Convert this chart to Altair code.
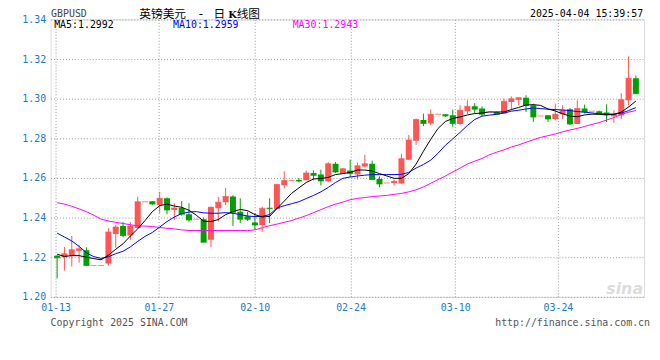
import altair as alt
import pandas as pd

# ---- data (candle index 0..79) ----
opens = [1.2207, 1.2200, 1.2208, 1.2233, 1.2235, 1.2158, 1.2158, 1.2168, 1.2317, 1.2357,
         1.2310, 1.2347, 1.2480, 1.2483, 1.2463, 1.2497, 1.2438, 1.2448, 1.2417, 1.2392,
         1.2392, 1.2288, 1.2447, 1.2477, 1.2507, 1.2430, 1.2407, 1.2375, 1.2363, 1.2450,
         1.2443, 1.2563, 1.2587, 1.2590, 1.2588, 1.2625, 1.2617, 1.2583, 1.2672, 1.2622,
         1.2638, 1.2617, 1.2658, 1.2672, 1.2595, 1.2575, 1.2575, 1.2572, 1.2692, 1.2788,
         1.2892, 1.2875, 1.2922, 1.2922, 1.2917, 1.2872, 1.2937, 1.2962, 1.2950, 1.2933,
         1.2933, 1.2925, 1.2983, 1.2995, 1.3005, 1.2967, 1.2913, 1.2917, 1.2897, 1.2922,
         1.2947, 1.2872, 1.2950, 1.2937, 1.2937, 1.2930, 1.2912, 1.2917, 1.2992, 1.3103]
highs = [1.2210, 1.2252, 1.2307, 1.2260, 1.2250, 1.2158, 1.2158, 1.2347, 1.2363, 1.2377,
         1.2377, 1.2505, 1.2480, 1.2483, 1.2530, 1.2502, 1.2472, 1.2483, 1.2472, 1.2392,
         1.2400, 1.2455, 1.2505, 1.2550, 1.2513, 1.2497, 1.2430, 1.2422, 1.2455, 1.2497,
         1.2570, 1.2633, 1.2587, 1.2600, 1.2637, 1.2638, 1.2642, 1.2680, 1.2680, 1.2650,
         1.2692, 1.2678, 1.2717, 1.2687, 1.2608, 1.2575, 1.2592, 1.2722, 1.2817, 1.2900,
         1.2925, 1.2945, 1.2922, 1.2922, 1.2945, 1.2967, 1.2992, 1.2978, 1.2962, 1.2933,
         1.2935, 1.3000, 1.3012, 1.3008, 1.3017, 1.2975, 1.2913, 1.2917, 1.2975, 1.2967,
         1.2953, 1.2992, 1.2970, 1.2937, 1.2940, 1.2972, 1.2942, 1.3028, 1.3213, 1.3117]
lows = [1.2093, 1.2133, 1.2153, 1.2172, 1.2158, 1.2158, 1.2158, 1.2158, 1.2247, 1.2300,
        1.2288, 1.2345, 1.2480, 1.2463, 1.2422, 1.2417, 1.2388, 1.2410, 1.2380, 1.2392,
        1.2275, 1.2250, 1.2380, 1.2463, 1.2358, 1.2372, 1.2383, 1.2338, 1.2327, 1.2372,
        1.2443, 1.2547, 1.2587, 1.2577, 1.2588, 1.2588, 1.2563, 1.2580, 1.2625, 1.2620,
        1.2605, 1.2592, 1.2655, 1.2592, 1.2553, 1.2575, 1.2562, 1.2572, 1.2692, 1.2767,
        1.2862, 1.2867, 1.2922, 1.2908, 1.2858, 1.2867, 1.2922, 1.2925, 1.2912, 1.2933,
        1.2920, 1.2925, 1.2942, 1.2967, 1.2933, 1.2883, 1.2913, 1.2883, 1.2892, 1.2897,
        1.2867, 1.2872, 1.2925, 1.2937, 1.2922, 1.2883, 1.2878, 1.2897, 1.2967, 1.3025]
closes = [1.2197, 1.2217, 1.2238, 1.2243, 1.2158, 1.2158, 1.2158, 1.2327, 1.2352, 1.2310,
          1.2357, 1.2480, 1.2480, 1.2468, 1.2497, 1.2438, 1.2448, 1.2417, 1.2388, 1.2392,
          1.2275, 1.2452, 1.2477, 1.2507, 1.2427, 1.2392, 1.2392, 1.2363, 1.2447, 1.2445,
          1.2567, 1.2587, 1.2587, 1.2585, 1.2625, 1.2613, 1.2585, 1.2672, 1.2630, 1.2647,
          1.2622, 1.2662, 1.2672, 1.2592, 1.2570, 1.2575, 1.2583, 1.2697, 1.2792, 1.2895,
          1.2875, 1.2922, 1.2922, 1.2913, 1.2875, 1.2942, 1.2962, 1.2947, 1.2922, 1.2933,
          1.2922, 1.2987, 1.3000, 1.3005, 1.2967, 1.2908, 1.2913, 1.2897, 1.2922, 1.2942,
          1.2872, 1.2950, 1.2933, 1.2937, 1.2925, 1.2922, 1.2922, 1.2995, 1.3103, 1.3025]
ma5 = [1.2215, 1.2204, 1.2208, 1.2208, 1.2200, 1.2193, 1.2187, 1.2210, 1.2240, 1.2268,
       1.2307, 1.2343, 1.2385, 1.2430, 1.2460, 1.2468, 1.2458, 1.2452, 1.2437, 1.2412,
       1.2382, 1.2380, 1.2390, 1.2415, 1.2430, 1.2441, 1.2435, 1.2415, 1.2403, 1.2406,
       1.2445, 1.2483, 1.2522, 1.2550, 1.2577, 1.2595, 1.2597, 1.2603, 1.2617, 1.2622,
       1.2628, 1.2640, 1.2640, 1.2635, 1.2622, 1.2610, 1.2598, 1.2598, 1.2622, 1.2670,
       1.2735, 1.2795, 1.2850, 1.2885, 1.2900, 1.2908, 1.2918, 1.2925, 1.2928, 1.2933,
       1.2933, 1.2933, 1.2945, 1.2956, 1.2968, 1.2970, 1.2966, 1.2948, 1.2938, 1.2924,
       1.2912, 1.2909, 1.2918, 1.2922, 1.2921, 1.2918, 1.2921, 1.2932, 1.2958, 1.2988]
ma10 = [1.2322, 1.2302, 1.2282, 1.2255, 1.2222, 1.2203, 1.2194, 1.2202, 1.2218, 1.2230,
        1.2252, 1.2280, 1.2305, 1.2325, 1.2352, 1.2380, 1.2403, 1.2420, 1.2428, 1.2430,
        1.2424, 1.2422, 1.2422, 1.2425, 1.2422, 1.2415, 1.2408, 1.2405, 1.2406, 1.2415,
        1.2448, 1.2460, 1.2470, 1.2480, 1.2496, 1.2512, 1.2530, 1.2552, 1.2577, 1.2598,
        1.2605, 1.2610, 1.2614, 1.2617, 1.2617, 1.2617, 1.2617, 1.2618, 1.2628, 1.2650,
        1.2668, 1.2690, 1.2725, 1.2765, 1.2797, 1.2830, 1.2865, 1.2895, 1.2912, 1.2917,
        1.2921, 1.2928, 1.2937, 1.2942, 1.2948, 1.2953, 1.2950, 1.2947, 1.2945, 1.2943,
        1.2940, 1.2935, 1.2932, 1.2928, 1.2924, 1.2922, 1.2922, 1.2927, 1.2940, 1.2955]
ma30 = [1.2475, 1.2468, 1.2457, 1.2444, 1.2430, 1.2412, 1.2392, 1.2383, 1.2376, 1.2370,
        1.2364, 1.2358, 1.2357, 1.2355, 1.2350, 1.2346, 1.2343, 1.2338, 1.2335, 1.2335,
        1.2335, 1.2335, 1.2335, 1.2335, 1.2335, 1.2335, 1.2334, 1.2338, 1.2349, 1.2359,
        1.2367, 1.2376, 1.2385, 1.2397, 1.2410, 1.2425, 1.2440, 1.2455, 1.2468, 1.2478,
        1.2490, 1.2497, 1.2501, 1.2506, 1.2509, 1.2512, 1.2517, 1.2522, 1.2530, 1.2540,
        1.2555, 1.2573, 1.2592, 1.2610, 1.2630, 1.2650, 1.2670, 1.2685, 1.2698, 1.2717,
        1.2730, 1.2742, 1.2756, 1.2767, 1.2780, 1.2793, 1.2805, 1.2813, 1.2822, 1.2833,
        1.2842, 1.2850, 1.2860, 1.2870, 1.2880, 1.2892, 1.2905, 1.2920, 1.2932, 1.2940]

date_tick_pos = [-0.21, 13.89, 26.97, 40.05, 54.34, 68.36]
date_tick_labels = ["01-13", "01-27", "02-10", "02-24", "03-10", "03-24"]
price_ticks = [1.20, 1.22, 1.24, 1.26, 1.28, 1.30, 1.32, 1.34]

ma_names = ["MA5", "MA10", "MA30"]
ma_last = [1.2992, 1.2959, 1.2943]
ma_colors = ["#000000", "#0000ff", "#ff00ff"]

symbol = "GBPUSD"
title_parts = ["英镑美元", "-", "日", "K", "线图"]
stamp_text = "2025-04-04 15:39:57"
copyright_text = "Copyright 2025 SINA.COM"
url_text = "http://finance.sina.com.cn"

# ---- tables ----
n = len(opens)
candles = pd.DataFrame({
    "i": list(range(n)), "open": opens, "high": highs, "low": lows, "close": closes,
})

W, H = 599, 280
MONO = "DejaVu Sans Mono"
CJK = "Noto Sans CJK SC"
AXIS_BLUE = "#1a7cc9"
RED, GREEN = "#ff5555", "#00a000"

xs = alt.Scale(domain=[-0.213, 79.44], nice=False, zero=False)
ys = alt.Scale(domain=[1.20, 1.34], nice=False, zero=False)

label_expr = "[" + ",".join("'%s'" % s for s in date_tick_labels) + "][indexof([" + \
    ",".join(str(v) for v in date_tick_pos) + "], datum.value)]"

x_axis = alt.Axis(
    values=date_tick_pos, labelExpr=label_expr, grid=True, gridDash=[1, 2],
    gridColor="#999999", ticks=False, domain=False, labelColor=AXIS_BLUE,
    labelFont=MONO, labelFontSize=10, labelPadding=6, labelFlush=False,
    labelOverlap=False, title=None)
y_axis = alt.Axis(values=price_ticks, format=".2f", grid=True, gridDash=[1, 2],
                  gridColor="#999999", ticks=False, domain=False, labelColor=AXIS_BLUE,
                  labelFont=MONO, labelFontSize=10, labelPadding=5, labelOverlap=False,
                  labelFlush=False, title=None)


def X(field):
    return alt.X(field, type="quantitative", scale=xs, axis=x_axis)


def Y(field):
    return alt.Y(field, type="quantitative", scale=ys, axis=y_axis)


up_color = alt.condition("datum.close >= datum.open", alt.value(RED), alt.value(GREEN))

base = alt.Chart(candles)

watermark = alt.Chart(pd.DataFrame({"t": ["sina"]})).mark_text(
    font="DejaVu Sans", fontSize=16, fontStyle="italic", fontWeight="bold",
    color="#dcdcdc", align="right", baseline="alphabetic"
).encode(text="t:N", x=alt.value(W - 1), y=alt.value(H - 3))

wicks = base.mark_rule(strokeWidth=1, clip=True).encode(
    x=X("i"), y=Y("low"), y2="high", color=up_color,
)
bodies = base.mark_bar(width=6, clip=True).encode(
    x=X("i"), y=Y("open"), y2="close", color=up_color,
)
close_tick = base.mark_tick(orient="horizontal", size=6, thickness=1, clip=True).encode(
    x=X("i"), y=Y("close"), color=up_color,
)

ma_series = {"MA5": ma5, "MA10": ma10, "MA30": ma30}
ma_layers = []
for name, col in zip(["MA30", "MA10", "MA5"], ["#ff00ff", "#0000ff", "#000000"]):
    df = pd.DataFrame({"i": list(range(n)), "v": ma_series[name]})
    ma_layers.append(
        alt.Chart(df).mark_line(strokeWidth=1, clip=True, color=col).encode(
            x=X("i"), y=Y("v")
        )
    )


def label(text, x, y, align="left", color="#000", font=MONO, size=10, weight="normal"):
    return alt.Chart(pd.DataFrame({"t": [text]})).mark_text(
        font=font, fontSize=size, align=align, baseline="alphabetic", color=color,
        fontWeight=weight
    ).encode(text="t:N", x=alt.value(x), y=alt.value(y))


legend_x = [3.6, 123.6, 244.3]
legend_texts = [
    label("%s:%.4f" % (nm, v), px, 9, color=col)
    for nm, v, px, col in zip(ma_names, ma_last, legend_x, ma_colors)
]

# title pieces (spaced like the reference)
title_x = [89.5, 149.5, 164.5, 179.3, 187.8]
title_w = ["normal", "normal", "normal", "bold", "normal"]
title_font = [CJK, "DejaVu Sans", CJK, "DejaVu Serif", CJK]
title_size = [11.8, 11.8, 11.8, 10, 11.8]
title_texts = [
    label(t, px, -1.3, font=f, size=s, weight=w)
    for t, px, w, f, s in zip(title_parts, title_x, title_w, title_font, title_size)
]

top_texts = [
    label(symbol, 0.5, -2, color="#444444"),
    label(stamp_text, 598, -2, align="right"),
    label(copyright_text, 0, 309, color="#555555"),
    label(url_text, 605, 309, align="right", color="#555555"),
]

chart = alt.layer(
    watermark, wicks, bodies, close_tick, *ma_layers, *legend_texts, *title_texts, *top_texts
).properties(
    width=W, height=H,
    autosize=alt.AutoSizeParams(type="none"),
    padding={"left": 43, "top": 10, "right": 8, "bottom": 40},
).configure_view(
    stroke="#a0a0a0", strokeWidth=1
).configure(background="white")

chart.save("out.html", embed_options={"renderer": "svg", "actions": False})
